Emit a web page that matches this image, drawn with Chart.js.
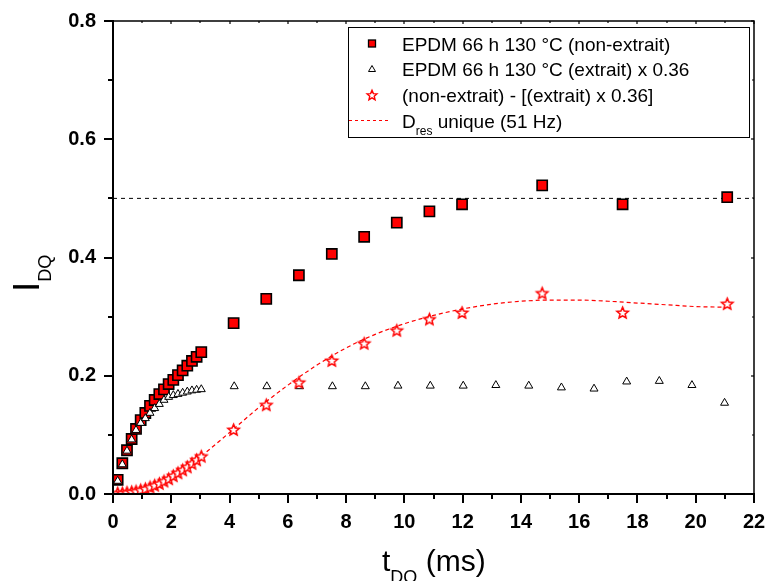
<!DOCTYPE html>
<html>
<head>
<meta charset="utf-8">
<script src="https://cdn.jsdelivr.net/npm/chart.js@4/dist/chart.umd.min.js"></script>
<style>
html,body{margin:0;padding:0;background:#fff;}
canvas{display:block;}
</style>
</head>
<body>
<canvas id="c" width="766" height="581"></canvas>
<script>
// ---- data ----
const tNonExtrait = [0.16,0.32,0.48,0.64,0.79,0.95,1.11,1.27,1.43,1.59,1.75,1.91,2.07,2.23,2.39,2.55,2.71,2.87,3.03,
  4.14,5.26,6.38,7.51,8.62,9.74,10.86,11.98,14.73,17.49,21.08];
const iNonExtrait = [0.024,0.052,0.074,0.093,0.110,0.125,0.137,0.149,0.159,0.169,0.177,0.186,0.193,0.201,0.209,0.217,0.225,0.232,0.240,
  0.289,0.330,0.370,0.406,0.435,0.459,0.478,0.490,0.522,0.490,0.502];

const tExtrait = [0.16,0.32,0.48,0.64,0.79,0.95,1.11,1.27,1.43,1.59,1.75,1.91,2.07,2.23,2.39,2.55,2.71,2.87,3.03,
  4.16,5.28,6.40,7.53,8.66,9.78,10.89,12.02,13.14,14.27,15.39,16.51,17.63,18.75,19.87,20.99];
const iExtrait = [0.022,0.050,0.073,0.092,0.108,0.120,0.128,0.137,0.145,0.152,0.159,0.164,0.167,0.169,0.171,0.173,0.175,0.176,0.177,
  0.182,0.182,0.182,0.182,0.182,0.183,0.183,0.183,0.184,0.183,0.180,0.178,0.190,0.191,0.184,0.154];

const tDiff = tNonExtrait;
const iDiff = [0.002,0.002,0.003,0.004,0.005,0.007,0.009,0.012,0.015,0.018,0.022,0.026,0.031,0.036,0.041,0.046,0.052,0.058,0.064,
  0.109,0.151,0.189,0.226,0.255,0.277,0.296,0.307,0.340,0.307,0.322];

const tFit = [0,0.5,1,1.5,2,2.5,3,4,5,6,7,8,9,10,11,12,13,14,15,16,17,18,19,20,21];
const iFit = [0,0.002,0.007,0.016,0.029,0.045,0.063,0.104,0.146,0.184,0.218,0.247,0.270,0.288,0.302,0.313,0.321,0.326,0.328,0.328,0.326,0.323,0.320,0.317,0.316];

const refLevel = 0.5;
const xRange = [0, 22];
const yRange = [0, 0.8];
const xTickStep = 2, yTickStep = 0.2;

const legendLabels = ['EPDM 66 h 130 \u00B0C (non-extrait)', 'EPDM 66 h 130 \u00B0C (extrait) x 0.36', '(non-extrait) - [(extrait) x 0.36]'];
const fitLabel = ['D', 'res', ' unique (51 Hz)'];
const xTitle = ['t', 'DQ', ' (ms)'];
const yTitle = ['I', 'DQ'];

// ---- helpers ----
const pts = (xs, ys) => xs.map((x, i) => ({x: x, y: ys[i]}));
const FONT = '"Liberation Sans", Arial, sans-serif';

function drawStar(ctx, cx, cy, R, lw) {
  const r = R * 0.45;
  ctx.beginPath();
  for (let k = 0; k < 10; k++) {
    const rad = k % 2 === 0 ? R : r;
    const a = -Math.PI / 2 + k * Math.PI / 5;
    const px = cx + rad * Math.cos(a), py = cy + rad * Math.sin(a);
    if (k === 0) ctx.moveTo(px, py); else ctx.lineTo(px, py);
  }
  ctx.closePath();
  ctx.fillStyle = '#fff';
  ctx.fill();
  ctx.lineWidth = lw;
  ctx.strokeStyle = '#ff0000';
  ctx.lineJoin = 'miter';
  ctx.stroke();
}
function starCanvas(R, lw) {
  const s = Math.ceil(R * 2 + lw * 2 + 2);
  const cv = document.createElement('canvas');
  cv.width = s; cv.height = s;
  drawStar(cv.getContext('2d'), s / 2, s / 2 + R * 0.1, R, lw);
  return cv;
}
const starImg = starCanvas(6, 1.5);

const framePlugin = {
  id: 'frame',
  afterDatasetsDraw(chart) {
    const {ctx, chartArea: a, scales: {x, y}} = chart;
    ctx.save();
    ctx.strokeStyle = '#000';
    ctx.lineCap = 'butt';
    ctx.lineWidth = 1.5;
    ctx.beginPath();
    ctx.moveTo(a.left, a.top); ctx.lineTo(a.right, a.top); ctx.lineTo(a.right, a.bottom);
    ctx.stroke();
    ctx.lineWidth = 2;
    ctx.beginPath();
    ctx.moveTo(a.left, a.top - 1); ctx.lineTo(a.left, a.bottom); ctx.lineTo(a.right + 1, a.bottom);
    ctx.stroke();
    for (let t = xRange[0]; t <= xRange[1]; t += 1) {
      const px = Math.round(x.getPixelForValue(t));
      const major = t % xTickStep === 0;
      ctx.lineWidth = 2;
      ctx.beginPath();
      ctx.moveTo(px, a.bottom); ctx.lineTo(px, a.bottom + (major ? 9 : 5));
      ctx.stroke();
      ctx.lineWidth = 1.2;
      ctx.beginPath();
      ctx.moveTo(px, a.top); ctx.lineTo(px, a.top + (major ? 3 : 2));
      ctx.stroke();
    }
    for (let i = 0; i <= 8; i++) {
      const v = i / 10;
      const py = Math.round(y.getPixelForValue(v));
      const major = i % 2 === 0;
      ctx.lineWidth = 2;
      ctx.beginPath();
      ctx.moveTo(a.left, py); ctx.lineTo(a.left - (major ? 9 : 5), py);
      ctx.stroke();
      ctx.lineWidth = 1.2;
      ctx.beginPath();
      ctx.moveTo(a.right, py); ctx.lineTo(a.right - (major ? 3 : 2), py);
      ctx.stroke();
    }
    ctx.restore();
  },
  afterDraw(chart) {
    const {ctx} = chart;
    ctx.save();
    ctx.fillStyle = '#000';
    ctx.textBaseline = 'alphabetic';
    ctx.textAlign = 'left';
    let xx = 382;
    ctx.font = '30px ' + FONT;
    ctx.fillText(xTitle[0], xx, 571);
    xx += ctx.measureText(xTitle[0]).width;
    ctx.font = '18px ' + FONT;
    ctx.fillText(xTitle[1], xx, 583);
    xx += ctx.measureText(xTitle[1]).width;
    ctx.font = '30px ' + FONT;
    ctx.fillText(xTitle[2], xx, 571);
    ctx.translate(38.5, 292);
    ctx.rotate(-Math.PI / 2);
    ctx.font = '37px ' + FONT;
    ctx.fillText(yTitle[0], 0, 0);
    let yy = ctx.measureText(yTitle[0]).width;
    ctx.font = '18px ' + FONT;
    ctx.fillText(yTitle[1], yy, 12.5);
    ctx.restore();

    ctx.save();
    const bx = 348.5, by = 27.5, bw = 401, bh = 110;
    ctx.fillStyle = '#fff';
    ctx.fillRect(bx, by, bw, bh);
    ctx.strokeStyle = '#000';
    ctx.lineWidth = 1;
    ctx.strokeRect(bx, by, bw, bh);
    const rows = [43.5, 69, 95, 120.5];
    const mx = 372, tx = 402;
    ctx.fillStyle = '#ff0000';
    ctx.fillRect(mx - 3.5, rows[0] - 3.5, 7, 7);
    ctx.lineWidth = 1.3;
    ctx.strokeStyle = '#000';
    ctx.strokeRect(mx - 3.5, rows[0] - 3.5, 7, 7);
    ctx.beginPath();
    ctx.moveTo(mx, rows[1] - 3.5); ctx.lineTo(mx + 3.5, rows[1] + 2.5); ctx.lineTo(mx - 3.5, rows[1] + 2.5);
    ctx.closePath();
    ctx.fillStyle = '#fff'; ctx.fill();
    ctx.lineWidth = 1; ctx.strokeStyle = '#000'; ctx.stroke();
    drawStar(ctx, mx, rows[2] + 0.5, 5.2, 1.4);
    ctx.beginPath();
    ctx.setLineDash([3, 3]);
    ctx.strokeStyle = '#ff0000';
    ctx.lineWidth = 1;
    ctx.moveTo(349, rows[3]); ctx.lineTo(388, rows[3]);
    ctx.stroke();
    ctx.setLineDash([]);
    ctx.fillStyle = '#000';
    ctx.font = '19px ' + FONT;
    ctx.textBaseline = 'alphabetic';
    for (let i = 0; i < 3; i++) ctx.fillText(legendLabels[i], tx, rows[i] + 7);
    let lx = tx;
    ctx.fillText(fitLabel[0], lx, rows[3] + 7);
    lx += ctx.measureText(fitLabel[0]).width;
    ctx.font = '12px ' + FONT;
    ctx.fillText(fitLabel[1], lx, rows[3] + 14);
    lx += ctx.measureText(fitLabel[1]).width;
    ctx.font = '19px ' + FONT;
    ctx.fillText(fitLabel[2], lx, rows[3] + 7);
    ctx.restore();
  }
};

new Chart(document.getElementById('c'), {
  type: 'scatter',
  data: {
    datasets: [
      {
        label: legendLabels[0],
        data: pts(tNonExtrait, iNonExtrait),
        pointStyle: 'rect', pointRadius: 7.2, pointHoverRadius: 7.2,
        backgroundColor: '#ff0000', borderColor: '#000', borderWidth: 1.6,
        showLine: false, order: 5
      },
      {
        label: legendLabels[1],
        data: pts(tExtrait, iExtrait),
        pointStyle: 'triangle', pointRadius: 4.6, pointHoverRadius: 4.6,
        backgroundColor: '#fff', borderColor: '#000', borderWidth: 1,
        showLine: false, order: 4
      },
      {
        label: 'fit',
        data: pts(tFit, iFit),
        showLine: true, pointRadius: 0, borderColor: '#ff0000', borderWidth: 1.2,
        borderDash: [4, 3], cubicInterpolationMode: 'monotone', fill: false, order: 3
      },
      {
        label: 'ref',
        data: [{x: xRange[0], y: refLevel}, {x: xRange[1], y: refLevel}],
        showLine: true, pointRadius: 0, borderColor: '#000', borderWidth: 1,
        borderDash: [4, 4], fill: false, order: 6
      },
      {
        label: legendLabels[2],
        data: pts(tDiff, iDiff),
        pointStyle: starImg, pointRadius: 6, pointHoverRadius: 6,
        showLine: false, order: 2
      }
    ]
  },
  options: {
    responsive: false,
    animation: false,
    devicePixelRatio: 1,
    layout: {padding: {top: 21, right: 12, left: 0, bottom: 0}},
    plugins: {legend: {display: false}, tooltip: {enabled: false}},
    scales: {
      x: {
        type: 'linear', min: xRange[0], max: xRange[1],
        grid: {display: false, drawTicks: false},
        border: {display: false},
        ticks: {stepSize: xTickStep, color: '#000', padding: 16, font: {family: FONT, size: 20, weight: 'bold'}},
        afterFit(s) { s.height = 87; s.paddingLeft = 0; s.paddingRight = 0; }
      },
      y: {
        type: 'linear', min: yRange[0], max: yRange[1],
        grid: {display: false, drawTicks: false},
        border: {display: false},
        ticks: {stepSize: yTickStep, color: '#000', padding: 17, font: {family: FONT, size: 20, weight: 'bold'},
          callback: v => v.toFixed(1)},
        afterFit(s) { s.width = 113; s.paddingTop = 0; s.paddingBottom = 0; }
      }
    }
  },
  plugins: [framePlugin]
});
</script>
</body>
</html>
